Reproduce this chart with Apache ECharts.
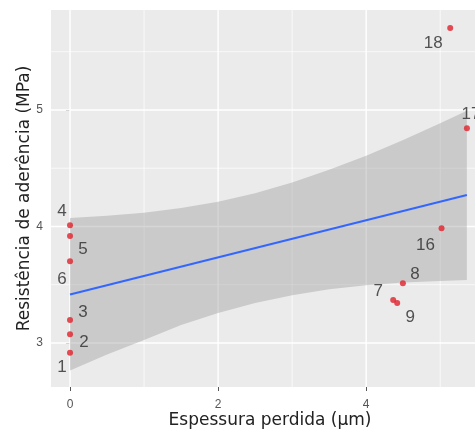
<!DOCTYPE html>
<html><head><meta charset="utf-8">
<script src="https://cdn.jsdelivr.net/npm/echarts@6/dist/echarts.min.js"></script>
<style>html,body{margin:0;padding:0;background:#fff}#c{width:475px;height:437px}</style>
</head><body><div id="c"></div>
<script>
// ---- data ----
const pointIds = ['1','2','3','4','5','6','7','8','9','16','17','18'];
const pointX = [0, 0, 0, 0, 0, 0, 4.365, 4.496, 4.419, 5.018, 5.361, 5.135];
const pointY = [2.917, 3.075, 3.197, 4.011, 3.918, 3.702, 3.369, 3.512, 3.343, 3.985, 4.843, 5.704];
const fitX = [0, 5.36];
const fitY = [3.416, 4.270];
const bandX = [0, 0.5, 1, 1.5, 2, 2.5, 3, 3.5, 4, 4.5, 5, 5.36];
const bandUpper = [4.072, 4.091, 4.118, 4.158, 4.213, 4.286, 4.377, 4.486, 4.608, 4.743, 4.885, 4.994];
const bandLower = [2.764, 2.901, 3.025, 3.155, 3.258, 3.342, 3.409, 3.460, 3.496, 3.520, 3.532, 3.540];
const xTicks = [0, 2, 4];
const xMinor = [1, 3, 5];
const yTicks = [3, 4, 5];
const yMinor = [3.5, 4.5, 5.5];

// ---- styling ----
const labelOffsets = [[-8,15],[14,8],[13,-8],[-8,-14],[13,13],[-8,18],[-15,-9],[12,-9],[13,14],[-16,17],[4,-14],[-17,15]];
const FONT = 'Liberation Sans, Arial, sans-serif';
const TITLE_FONT = 'DejaVu Sans, sans-serif';

const chart = echarts.init(document.getElementById('c'), null, {renderer: 'canvas'});

function renderGrid(params, api) {
  const cs = params.coordSys;
  const children = [];
  const v = (val, w) => {
    const x = api.coord([val, 4])[0];
    children.push({type: 'line', shape: {x1: x, y1: cs.y, x2: x, y2: cs.y + cs.height}, style: {stroke: '#ffffff', lineWidth: w}});
  };
  const h = (val, w) => {
    const y = api.coord([1, val])[1];
    children.push({type: 'line', shape: {x1: cs.x, y1: y, x2: cs.x + cs.width, y2: y}, style: {stroke: '#ffffff', lineWidth: w}});
  };
  xMinor.forEach(t => v(t, 0.7));
  yMinor.forEach(t => h(t, 0.7));
  xTicks.forEach(t => v(t, 1.4));
  yTicks.forEach(t => h(t, 1.4));
  return {type: 'group', children};
}

function renderBand(params, api) {
  const pts = [];
  for (let i = 0; i < bandX.length; i++) pts.push(api.coord([bandX[i], bandUpper[i]]));
  for (let i = bandX.length - 1; i >= 0; i--) pts.push(api.coord([bandX[i], bandLower[i]]));
  return {type: 'polygon', shape: {points: pts}, style: {fill: 'rgba(153,153,153,0.4)', stroke: null}};
}

const option = {
  animation: false,
  backgroundColor: '#ffffff',
  grid: {left: 51, top: 10, right: 0, bottom: 50, show: true, backgroundColor: '#ebebeb', borderWidth: 0},
  xAxis: {
    type: 'value', min: -0.257, max: 5.47,
    name: 'Espessura perdida (\u00b5m)', nameLocation: 'middle', nameGap: 25, nameMoveOverlap: false,
    nameTextStyle: {fontFamily: TITLE_FONT, fontSize: 17, color: '#222222', padding: [0, 0, 0, 14]},
    axisLine: {show: false},
    axisTick: {show: true, customValues: xTicks, length: 4, lineStyle: {color: '#555555', width: 1}},
    axisLabel: {customValues: xTicks, fontFamily: FONT, fontSize: 12, color: '#555555', margin: 12},
    splitLine: {show: false}
  },
  yAxis: {
    type: 'value', min: 2.622, max: 5.858,
    name: 'Resist\u00eancia de ader\u00eancia (MPa)', nameLocation: 'middle', nameGap: 18, nameMoveOverlap: false,
    nameTextStyle: {fontFamily: TITLE_FONT, fontSize: 17, color: '#222222'},
    axisLine: {show: false},
    axisTick: {show: true, customValues: yTicks, length: 4, lineStyle: {color: '#555555', width: 1}},
    axisLabel: {customValues: yTicks, fontFamily: FONT, fontSize: 12, color: '#555555', margin: 8},
    splitLine: {show: false}
  },
  series: [
    {type: 'custom', z: 1, silent: true, renderItem: renderGrid, data: [[1, 4]], clip: true},
    {type: 'custom', z: 2, silent: true, renderItem: renderBand, data: [[1, 4]], clip: true},
    {type: 'line', z: 3, silent: true, symbol: 'none', data: fitX.map((x, i) => [x, fitY[i]]),
     lineStyle: {color: '#3366ff', width: 2}},
    {type: 'scatter', z: 4, silent: true, symbol: 'circle', symbolSize: 6,
     itemStyle: {color: '#e0202a'},
     data: pointIds.map((id, i) => ({
       value: [pointX[i], pointY[i]], name: id,
       label: {show: true, position: 'inside', offset: labelOffsets[i], formatter: id,
               fontFamily: FONT, fontSize: 17, color: '#2a2a2a', align: 'center', verticalAlign: 'middle'}
     }))
    }
  ]
};
chart.setOption(option);
</script>
</body></html>
